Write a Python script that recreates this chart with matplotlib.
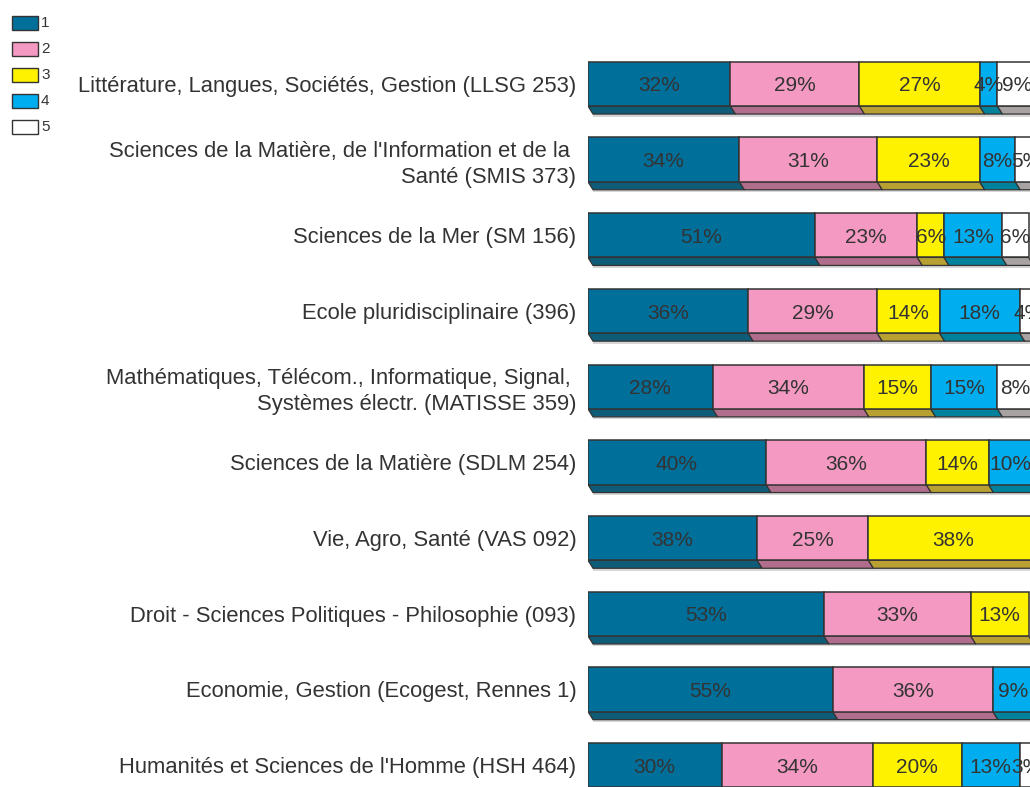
import matplotlib
matplotlib.use('Agg')
import matplotlib.pyplot as plt
from matplotlib.patches import Rectangle, Polygon

plt.rcParams['font.family'] = ['Liberation Sans', 'DejaVu Sans']

# Composantes / écoles doctorales
labels = [
    "Littérature, Langues, Sociétés, Gestion (LLSG 253)",
    "Sciences de la Matière, de l'Information et de la \nSanté (SMIS 373)",
    "Sciences de la Mer (SM 156)",
    "Ecole pluridisciplinaire (396)",
    "Mathématiques, Télécom., Informatique, Signal, \nSystèmes électr. (MATISSE 359)",
    "Sciences de la Matière (SDLM 254)",
    "Vie, Agro, Santé (VAS 092)",
    "Droit - Sciences Politiques - Philosophie (093)",
    "Economie, Gestion (Ecogest, Rennes 1)",
    "Humanités et Sciences de l'Homme (HSH 464)",
]

# Répartition (%) par réponse 1..5
rep1 = [32, 34, 51, 36, 28, 40, 38, 53, 55, 30]
rep2 = [29, 31, 23, 29, 34, 36, 25, 33, 36, 34]
rep3 = [27, 23, 6, 14, 15, 14, 38, 13, 0, 20]
rep4 = [4, 8, 13, 18, 15, 10, 0, 0, 9, 13]
rep5 = [9, 5, 6, 4, 8, 0, 0, 0, 0, 3]

legend_names = ['1', '2', '3', '4', '5']
front_colors = ['#006F9A', '#F49AC2', '#FFF200', '#00AEEF', '#FFFFFF']
side_colors = ['#0E5C78', '#B06E8C', '#B8A132', '#00819C', '#A9A2A2']
edge = '#333333'
txt = '#333333'

series = [rep1, rep2, rep3, rep4, rep5]

W, H = 1030, 787
fig = plt.figure(figsize=(W / 100, H / 100), dpi=100)

# axe : 0..100 % sur 445 px à partir de x=588
px_per_pct = 4.45
row_px = 75.7
row0 = 83.9
ax = fig.add_axes([588 / W, 0, 100 * px_per_pct / W, 1])
ax.set_xlim(0, 100)
ax.set_ylim((H - row0) / row_px, -row0 / row_px)

half = 22.15 / row_px      # demi-hauteur de la face avant
depth = 8 / row_px         # profondeur de la face inférieure
slant = 5 / px_per_pct     # décalage horizontal de la face inférieure

for i in range(len(labels)):
    left = 0
    yb = i + half
    for k, vals in enumerate(series):
        v = vals[i]
        if v == 0:
            continue
        # face inférieure (effet 3D)
        ax.add_patch(Polygon([(left, yb), (left + v, yb),
                              (left + v + slant, yb + depth), (left + slant, yb + depth)],
                             closed=True, facecolor=side_colors[k], edgecolor=edge,
                             linewidth=0.9, zorder=2))
        # face avant
        ax.add_patch(Rectangle((left, i - half), v, 2 * half,
                               facecolor=front_colors[k], edgecolor=edge,
                               linewidth=1.1, zorder=3))
        ax.text(left + v / 2, i, f'{v}%', ha='center', va='center_baseline',
                fontsize=15, color=txt, zorder=4)
        left += v
    # ombre légère sous la barre
    ax.add_patch(Rectangle((slant, yb + depth), left, 2.5 / row_px,
                           facecolor='#D6D6D6', edgecolor='none', zorder=1))

ax.set_yticks(range(len(labels)))
ax.set_yticklabels(labels, fontsize=15.8, color=txt, ha='right', linespacing=1.3)
ax.tick_params(axis='y', length=0, pad=8.3)
ax.tick_params(axis='x', bottom=False, labelbottom=False)
for s in ax.spines.values():
    s.set_visible(False)

# légende en haut à gauche
for k, name in enumerate(legend_names):
    y = H - (16 + k * 26)
    fig.add_artist(Rectangle((12 / W, (y - 14) / H), 26 / W, 14 / H,
                             transform=fig.transFigure, facecolor=front_colors[k],
                             edgecolor=edge, linewidth=1.0))
    fig.text(41 / W, (y - 7) / H, name, ha='left', va='center',
             fontsize=11, color=txt)

plt.savefig('out.png', dpi=100)
plt.close()
